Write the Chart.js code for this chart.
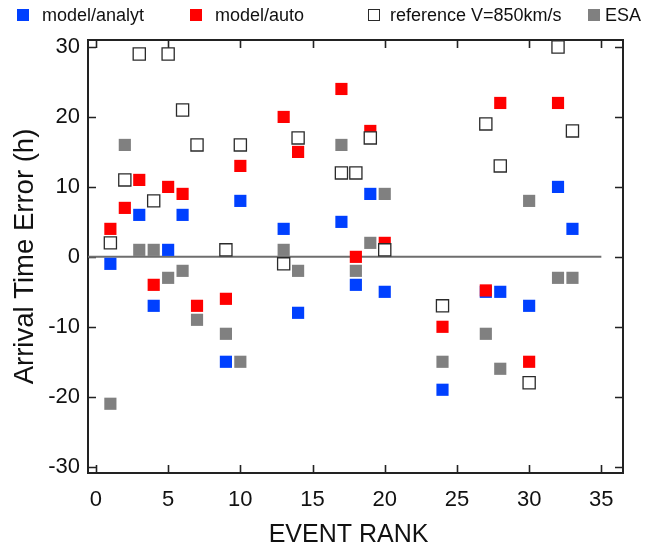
<!DOCTYPE html>
<html>
<head>
<meta charset="utf-8">
<script src="https://cdn.jsdelivr.net/npm/chart.js@4.4.1/dist/chart.umd.min.js"></script>
<style>
  html, body { margin: 0; padding: 0; background: #fff; }
  #wrap { position: relative; width: 649px; height: 552px; }
  #legend { position: absolute; left: 0; top: 0; width: 649px; height: 40px;
            font-family: 'Liberation Sans', Arial, sans-serif; font-size: 18px; color: #111; }
  #legend .box { position: absolute; top: 9px; width: 12px; height: 12px; box-sizing: border-box; }
  #legend .txt { position: absolute; top: 6px; line-height: 18px; white-space: nowrap; }
</style>
</head>
<body>
<div id="wrap">
  <canvas id="chart" width="649" height="552"></canvas>
  <div id="legend"></div>
</div>
<script>
'use strict';

// event ranks and arrival time errors (hours) per method
const analytRank = [1, 3, 4, 5, 6, 9, 10, 13, 14, 17, 18, 19, 20, 24, 27, 28, 30, 32, 33];
const analytErr  = [-1, 6, -7, 1, 6, -15, 8, 4, -8, 5, -4, 9, -5, -19, -5, -5, -7, 10, 4];

const autoRank = [1, 2, 3, 4, 5, 6, 7, 9, 10, 13, 14, 17, 18, 19, 20, 24, 27, 28, 30, 32];
const autoErr  = [4, 7, 11, -4, 10, 9, -7, -6, 13, 20, 15, 24, 0, 18, 2, -10, -4.8, 22, -15, 22];

const refRank = [1, 2, 3, 4, 5, 6, 7, 9, 10, 13, 14, 17, 18, 19, 20, 24, 27, 28, 30, 32, 33];
const refErr  = [2, 11, 29, 8, 29, 21, 16, 1, 16, -1, 17, 12, 12, 17, 1, -7, 19, 13, -18, 30, 18];

const esaRank = [1, 2, 3, 4, 5, 6, 7, 9, 10, 13, 14, 17, 18, 19, 20, 24, 27, 28, 30, 32, 33];
const esaErr  = [-21, 16, 1, 1, -3, -2, -9, -11, -15, 1, -2, 16, -2, 2, 9, -15, -11, -16, 8, -3, -3];

const xTickStep = 5;
const yTicks = [-30, -20, -10, 0, 10, 20, 30];
const X_MIN = -0.55, X_MAX = 36.5;
const Y_MIN = -30.9, Y_MAX = 31;
const zeroLineX = [X_MIN, 35];

const FONT = "'Liberation Sans', Arial, sans-serif";
const zip = (xs, ys) => xs.map((x, i) => ({ x, y: ys[i] }));

// inward ticks on all four sides plus the box frame
const frameTicks = {
  id: 'frameTicks',
  beforeDatasetsDraw(chart) {
    const { ctx, chartArea: a, scales: { x, y } } = chart;
    const tl = 8;
    ctx.save();
    ctx.strokeStyle = '#222';
    ctx.lineWidth = 1.6;
    ctx.beginPath();
    x.ticks.forEach((t) => {
      const px = Math.round(x.getPixelForValue(t.value)) + 0.5;
      ctx.moveTo(px, a.bottom); ctx.lineTo(px, a.bottom - tl);
      ctx.moveTo(px, a.top);    ctx.lineTo(px, a.top + tl);
    });
    y.ticks.forEach((t) => {
      const py = Math.round(y.getPixelForValue(t.value)) + 0.5;
      ctx.moveTo(a.left, py);  ctx.lineTo(a.left + tl, py);
      ctx.moveTo(a.right, py); ctx.lineTo(a.right - tl, py);
    });
    ctx.stroke();
    ctx.lineWidth = 2;
    ctx.strokeRect(a.left, a.top, a.right - a.left, a.bottom - a.top);
    ctx.restore();
  },
};

const square = (color, order) => ({
  pointStyle: 'rect',
  pointRadius: 8.6,
  pointHoverRadius: 8.6,
  backgroundColor: color,
  borderColor: color,
  borderWidth: 0,
  order,
});

const chart = new Chart(document.getElementById('chart'), {
  type: 'scatter',
  data: {
    datasets: [
      { label: 'model/analyt', data: zip(analytRank, analytErr), ...square('#0040ff', 4) },
      { label: 'model/auto', data: zip(autoRank, autoErr), ...square('#ff0000', 3) },
      { label: 'reference V=850km/s', data: zip(refRank, refErr), ...square('#ffffff', 2),
        borderColor: '#2a2a2a', borderWidth: 1.3 },
      { label: 'ESA', data: zip(esaRank, esaErr), ...square('#808080', 1) },
      { label: 'zero', data: zeroLineX.map((x) => ({ x, y: 0 })), showLine: true,
        borderColor: '#6e6e6e', borderWidth: 2, pointRadius: 0, order: 5 },
    ],
  },
  options: {
    responsive: false,
    animation: false,
    devicePixelRatio: 1,
    layout: { padding: { top: 40, right: 26, left: 0, bottom: 0 } },
    plugins: { legend: { display: false }, tooltip: { enabled: false } },
    scales: {
      x: {
        type: 'linear',
        min: X_MIN,
        max: X_MAX,
        grid: { display: false, drawTicks: false },
        border: { display: false },
        ticks: {
          stepSize: xTickStep,
          includeBounds: false,
          padding: 14,
          color: '#111',
          font: { family: FONT, size: 22 },
        },
        title: {
          display: true,
          text: 'EVENT RANK  ',
          color: '#111',
          font: { family: FONT, size: 25 },
          padding: { top: 0, bottom: 2 },
        },
        afterFit: (s) => { s.height = 79; },
      },
      y: {
        type: 'linear',
        min: Y_MIN,
        max: Y_MAX,
        grid: { display: false, drawTicks: false },
        border: { display: false },
        afterBuildTicks: (s) => { s.ticks = yTicks.map((v) => ({ value: v })); },
        ticks: {
          padding: 8,
          color: '#111',
          font: { family: FONT, size: 22 },
        },
        title: {
          display: true,
          text: 'Arrival Time Error (h)',
          color: '#111',
          font: { family: FONT, size: 27.5 },
          padding: { top: 9, bottom: 0 },
        },
        afterFit: (s) => { s.width = 88; },
      },
    },
  },
  plugins: [frameTicks],
});

// legend laid out like the original (uneven gaps between items)
const legendBoxLeft  = [17, 190, 368, 588];
const legendTextLeft = [42, 215, 390, 605];
const legend = document.getElementById('legend');
chart.data.datasets.slice(0, 4).forEach((ds, i) => {
  const box = document.createElement('span');
  box.className = 'box';
  box.style.left = legendBoxLeft[i] + 'px';
  box.style.background = ds.backgroundColor;
  if (ds.borderWidth) box.style.border = '1px solid ' + ds.borderColor;
  const txt = document.createElement('span');
  txt.className = 'txt';
  txt.style.left = legendTextLeft[i] + 'px';
  txt.textContent = ds.label;
  legend.appendChild(box);
  legend.appendChild(txt);
});
</script>
</body>
</html>
